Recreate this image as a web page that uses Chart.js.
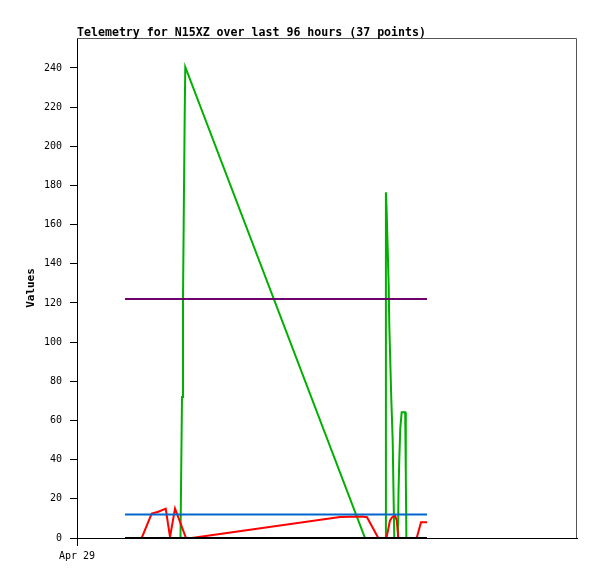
<!DOCTYPE html>
<html>
<head>
<meta charset="utf-8">
<script src="https://cdn.jsdelivr.net/npm/chart.js@4.4.0/dist/chart.umd.min.js"></script>
<style>
html, body { margin: 0; padding: 0; background: #fff; }
</style>
</head>
<body>
<canvas id="c" width="597" height="579"></canvas>
<script>
// hours since Apr 29 00:00
var titleText = "Telemetry for N15XZ over last 96 hours (37 points)";
var xTickLabel = "Apr 29";

var greenHours = [9.22, 19.87, 19.97, 20.16, 20.35, 20.51, 20.68, 20.79, 55.30, 59.23, 59.31, 59.46, 59.66, 59.85, 59.96, 60.16, 60.35, 60.61, 60.73, 60.92, 61.63, 61.73, 61.88, 62.07, 62.34, 63.01, 63.13, 63.24, 67.20];
var greenVals = [0, 0, 24.5, 72, 120.5, 168.5, 216.5, 240.5, 0, 0, 176.5, 166.6, 147.1, 128.3, 108.8, 89.2, 70.5, 50.1, 29.6, 0, 0, 23.6, 39.8, 56, 64.2, 64.2, 32.2, 0, 0];

var redHours = [9.22, 12.42, 14.34, 15.61, 17.03, 17.86, 18.82, 20.93, 22.02, 50.50, 54.72, 55.68, 57.85, 59.42, 60.10, 60.48, 61.06, 61.39, 61.69, 65.22, 66.05, 67.20];
var redVals = [0, 0, 12.5, 13.4, 15, 0.5, 15, 0, 0, 10.7, 11, 10.6, 0, 0, 9, 10.5, 11.5, 9, 0, 0, 8, 8];

var limitHours = [9.22, 67.20];
var blueVals = [12, 12];
var purpleVals = [122, 122];
var blackVals = [0, 0];

function pts(xs, ys) {
    var out = [];
    for (var i = 0; i < xs.length; i++) out.push({x: xs[i], y: ys[i]});
    return out;
}

var mono = '"DejaVu Sans Mono", monospace';

var titlePlugin = {
    id: 'leftTitle',
    afterDraw: function(chart) {
        var c = chart.ctx;
        c.save();
        c.font = 'bold 11.6px ' + mono;
        c.fillStyle = '#000';
        c.textAlign = 'left';
        c.textBaseline = 'alphabetic';
        c.fillText(titleText, chart.chartArea.left, 36);
        c.restore();
    }
};

var framePlugin = {
    id: 'frame',
    beforeDatasetsDraw: function(chart) {
        var a = chart.chartArea;
        var c = chart.ctx;
        c.save();
        c.strokeStyle = '#555';
        c.lineWidth = 1;
        c.beginPath();
        c.moveTo(a.left, a.top + 0.5);
        c.lineTo(a.right - 0.5, a.top + 0.5);
        c.lineTo(a.right - 0.5, a.bottom);
        c.stroke();
        c.restore();
    }
};

function line(label, data, color) {
    return {label: label, data: data, borderColor: color, borderWidth: 2, pointRadius: 0, tension: 0, fill: false};
}

var config = {
    type: 'line',
    data: {
        datasets: [
            line("zero", pts(limitHours, blackVals), "#000000"),
            line("upper", pts(limitHours, purpleVals), "#6e006e"),
            line("lower", pts(limitHours, blueVals), "#0066cc"),
            line("red", pts(redHours, redVals), "#ff0000"),
            line("green", pts(greenHours, greenVals), "#00b000")
        ]
    },
    options: {
        responsive: false,
        animation: false,
        layout: {padding: {left: 0, top: 38, right: 20, bottom: 0}},
        plugins: {legend: {display: false}, tooltip: {enabled: false}, title: {display: false}},
        scales: {
            x: {
                type: 'linear',
                min: 0,
                max: 96,
                border: {color: '#000', width: 1},
                grid: {drawOnChartArea: false, drawTicks: true, tickLength: 8, color: '#000'},
                ticks: {
                    color: '#000',
                    font: {family: mono, size: 10},
                    padding: 4,
                    maxRotation: 0,
                    callback: function(v) { return v === 0 ? xTickLabel : ''; }
                },
                afterBuildTicks: function(s) { s.ticks = [{value: 0}]; },
                afterFit: function(s) { s.height = 41; }
            },
            y: {
                min: 0,
                max: 255.3,
                border: {color: '#000', width: 1},
                grid: {drawOnChartArea: false, drawTicks: true, tickLength: 7, color: '#000'},
                ticks: {
                    stepSize: 20,
                    includeBounds: false,
                    color: '#000',
                    padding: 8,
                    font: {family: mono, size: 10}
                },
                title: {
                    display: true,
                    text: 'Values',
                    color: '#000',
                    font: {family: mono, size: 11, weight: 'bold'},
                    padding: {top: 25, bottom: 0}
                },
                afterFit: function(s) { s.width = 77; }
            }
        }
    },
    plugins: [titlePlugin, framePlugin]
};

var myChart = new Chart(document.getElementById('c'), config);
</script>
</body>
</html>
